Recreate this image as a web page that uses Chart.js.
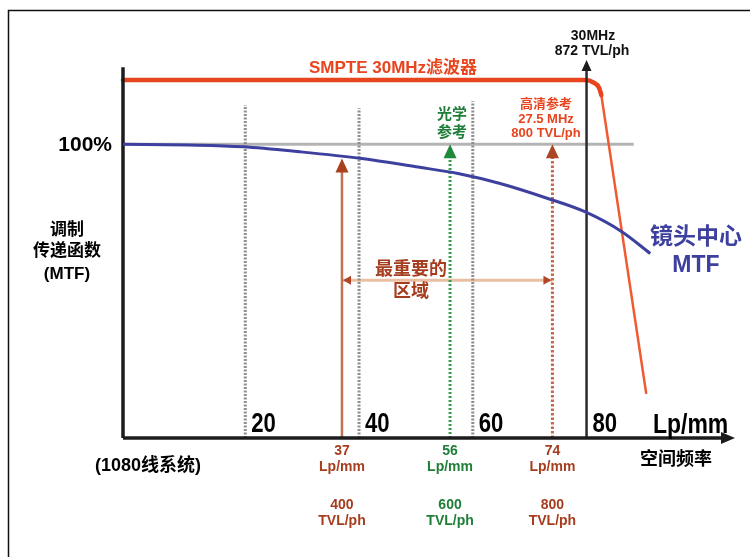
<!DOCTYPE html>
<html>
<head>
<meta charset="utf-8">
<script src="https://cdn.jsdelivr.net/npm/chart.js@4.4.1/dist/chart.umd.min.js"></script>
<style>
  html, body { margin: 0; padding: 0; background: #ffffff; }
  #wrap { width: 750px; height: 557px; position: relative; }
</style>
</head>
<body>
<div id="wrap"><canvas id="c" width="750" height="557"></canvas></div>
<script>
// Spatial frequency in Lp/mm, response in percent
const lensMtfFreq  = [-1.5, 10, 19.6, 29.6, 40.5, 50, 57.4, 64.8, 73.2, 79.7, 86.2, 91.2];
const lensMtfValue = [100, 99.7, 99.1, 97.4, 95.1, 92.3, 90.0, 86.6, 81.5, 77.0, 70.2, 62.8];

// SMPTE 30 MHz filter: flat pass band with a rounded knee, then the roll-off
const filterFreq      = [-1.5, 79.7, 81.3, 82.2, 82.6];
const filterValue     = [121.8, 121.8, 120.9, 119.2, 116.7];
const filterRollFreq  = [82.6, 90.5];
const filterRollValue = [116.7, 15.0];

// dotted reference verticals and their heights
const gridFreq = [20, 40, 60];
const gridTop  = [113.3, 112.2, 114.6];

// numbers printed beside the verticals
const tickFreq   = [20, 40, 60, 80];
const tickLabels = ['20', '40', '60', '80'];

// 30 MHz cut-off line
const cutoffFreq = 80;
const cutoffTop  = 128.6;

// resolution markers
const markerFreq  = [37, 56, 74];
const markerTop   = [95.1, 100, 100];
const markerLp    = ['37', '56', '74'];
const markerTvl   = ['400', '600', '800'];

const referenceLevel = 100;   // 100 % line
const referenceEnd   = 88.3;
const regionLevel    = 53.7;  // "most important region" span
const axisTop        = 126.2;

const xMin = -1.5, xMax = 106.1, yMin = 0, yMax = 130;

const LATIN = "'Liberation Sans', Arial, 'Noto Sans CJK SC', sans-serif";

const pts = (xs, ys) => xs.map((x, i) => ({ x, y: ys[i] }));

const BROWN = '#a53d1f';
const GREEN = '#1f7f39';
const RED = '#e8441e';
const BLUE = '#3d409e';

const datasets = [];

// axes
datasets.push({ data: [{ x: xMin, y: 0 }, { x: xMin, y: axisTop }], borderColor: '#1c1c1c', borderWidth: 3.5, order: 1 });
datasets.push({ data: [{ x: xMin, y: 0 }, { x: xMax - 1, y: 0 }], borderColor: '#1c1c1c', borderWidth: 3.5, order: 1 });

// 100 % line
datasets.push({ data: [{ x: xMin, y: referenceLevel }, { x: referenceEnd, y: referenceLevel }], borderColor: '#b4b4b4', borderWidth: 3, order: 9 });

// dotted verticals
gridFreq.forEach((f, i) => {
  datasets.push({ data: [{ x: f, y: 0 }, { x: f, y: gridTop[i] }], borderColor: '#8e8e8e', borderWidth: 3, borderDash: [2, 1.5], order: 3 });
});

// cut-off line
datasets.push({ data: [{ x: cutoffFreq, y: 0 }, { x: cutoffFreq, y: cutoffTop - 3 }], borderColor: '#2a2a2a', borderWidth: 2.5, order: 2 });

// marker shafts
const shaftStyle = [
  { color: '#c4714f', dash: [] },
  { color: '#35a150', dash: [2, 2] },
  { color: '#c26a48', dash: [2.5, 2] }
];
markerFreq.forEach((f, i) => {
  datasets.push({ data: [{ x: f, y: 0 }, { x: f, y: markerTop[i] - 3 }], borderColor: shaftStyle[i].color, borderWidth: i === 0 ? 2.5 : 3, borderDash: shaftStyle[i].dash, order: 4 });
});

// region span
datasets.push({ data: [{ x: markerFreq[0], y: regionLevel }, { x: markerFreq[2], y: regionLevel }], borderColor: '#ebbfa3', borderWidth: 3, order: 5 });

// filter response
datasets.push({ data: pts(filterFreq, filterValue), borderColor: RED, borderWidth: 4.5, cubicInterpolationMode: 'monotone', order: 6, borderJoinStyle: 'round', borderCapStyle: 'round' });
datasets.push({ data: pts(filterRollFreq, filterRollValue), borderColor: '#f05a30', borderWidth: 2.5, order: 6 });

// lens MTF
datasets.push({ data: pts(lensMtfFreq, lensMtfValue), borderColor: BLUE, borderWidth: 3, cubicInterpolationMode: 'monotone', order: 0 });

datasets.forEach(d => { d.pointRadius = 0; d.clip = false; d.fill = false; });

function head(ctx, x, y, dir, len, half, color) {
  ctx.save();
  ctx.fillStyle = color;
  ctx.beginPath();
  if (dir === 'up') { ctx.moveTo(x, y); ctx.lineTo(x - half, y + len); ctx.lineTo(x + half, y + len); }
  else if (dir === 'right') { ctx.moveTo(x, y); ctx.lineTo(x - len, y - half); ctx.lineTo(x - len, y + half); }
  else { ctx.moveTo(x, y); ctx.lineTo(x + len, y - half); ctx.lineTo(x + len, y + half); }
  ctx.closePath();
  ctx.fill();
  ctx.restore();
}

function text(ctx, s, x, y, font, color, align) {
  ctx.save();
  ctx.font = font;
  ctx.fillStyle = color;
  ctx.textAlign = align || 'center';
  ctx.textBaseline = 'middle';
  ctx.fillText(s, x, y);
  ctx.restore();
}

// horizontally condensed bold lettering for the scale numbers
function narrowText(ctx, s, x, y, size) {
  ctx.save();
  ctx.translate(x, y);
  ctx.scale(0.82, 1);
  ctx.font = 'bold ' + size + 'px ' + LATIN;
  ctx.fillStyle = '#000000';
  ctx.textAlign = 'left';
  ctx.textBaseline = 'alphabetic';
  ctx.fillText(s, 0, 0);
  ctx.restore();
}

const decorations = {
  id: 'decorations',
  beforeDraw(chart) {
    const ctx = chart.ctx;
    ctx.save();
    ctx.fillStyle = '#ffffff';
    ctx.fillRect(0, 0, chart.width, chart.height);
    ctx.strokeStyle = '#111111';
    ctx.lineWidth = 1.5;
    ctx.strokeRect(8.5, 10.5, 800, 800);
    ctx.restore();
  },
  afterDatasetsDraw(chart) {
    const ctx = chart.ctx;
    const X = v => chart.scales.x.getPixelForValue(v);
    const Y = v => chart.scales.y.getPixelForValue(v);

    // arrow heads
    head(ctx, X(xMax), Y(0), 'right', 14, 6, '#1c1c1c');
    head(ctx, X(cutoffFreq), Y(cutoffTop), 'up', 11, 5, '#1c1c1c');
    const headColor = ['#a8401c', '#1f8a3a', '#ad4624'];
    markerFreq.forEach((f, i) => head(ctx, X(f), Y(markerTop[i]), 'up', 14, 6.5, headColor[i]));
    head(ctx, X(markerFreq[0]) + 1, Y(regionLevel), 'left', 8, 4.5, '#b0452a');
    head(ctx, X(markerFreq[2]) - 1, Y(regionLevel), 'right', 8, 4.5, '#b0452a');

    // numbers beside the verticals
    tickFreq.forEach((f, i) => narrowText(ctx, tickLabels[i], X(f) + 6, 432, 27));
    narrowText(ctx, 'Lp/mm', 653, 433, 28);

    // titles and notes
    text(ctx, 'SMPTE 30MHz滤波器', 393, 68, 'bold 17px ' + LATIN, RED);
    text(ctx, '30MHz', 593, 36, 'bold 14px ' + LATIN, '#111111');
    text(ctx, '872 TVL/ph', 592, 51, 'bold 14px ' + LATIN, '#111111');
    text(ctx, '光学', 452, 115, 'bold 15px ' + LATIN, GREEN);
    text(ctx, '参考', 452, 133, 'bold 15px ' + LATIN, GREEN);
    text(ctx, '高清参考', 546, 104, 'bold 13px ' + LATIN, RED);
    text(ctx, '27.5 MHz', 546, 119, 'bold 13px ' + LATIN, RED);
    text(ctx, '800 TVL/ph', 546, 133, 'bold 13px ' + LATIN, RED);
    text(ctx, '100%', 112, 145, 'bold 21px ' + LATIN, '#000000', 'right');
    text(ctx, '调制', 67, 230, 'bold 17px ' + LATIN, '#000000');
    text(ctx, '传递函数', 67, 251, 'bold 17px ' + LATIN, '#000000');
    text(ctx, '(MTF)', 67, 274, 'bold 17px ' + LATIN, '#000000');
    text(ctx, '(1080线系统)', 148, 466, 'bold 18px ' + LATIN, '#000000');
    text(ctx, '镜头中心', 696, 238, 'bold 23px ' + LATIN, BLUE);
    text(ctx, 'MTF', 696, 266, 'bold 23px ' + LATIN, BLUE);
    text(ctx, '最重要的', 411, 270, 'bold 18px ' + LATIN, BROWN);
    text(ctx, '区域', 411, 292, 'bold 18px ' + LATIN, BROWN);
    text(ctx, '空间频率', 676, 460, 'bold 18px ' + LATIN, '#000000');

    // marker captions under the axis
    const capColor = [BROWN, GREEN, BROWN];
    markerFreq.forEach((f, i) => {
      const x = X(f);
      text(ctx, markerLp[i], x, 451, 'bold 14px ' + LATIN, capColor[i]);
      text(ctx, 'Lp/mm', x, 467, 'bold 14px ' + LATIN, capColor[i]);
      text(ctx, markerTvl[i], x, 505, 'bold 14px ' + LATIN, capColor[i]);
      text(ctx, 'TVL/ph', x, 521, 'bold 14px ' + LATIN, capColor[i]);
    });
  }
};

new Chart(document.getElementById('c'), {
  type: 'line',
  data: { datasets },
  options: {
    responsive: false,
    animation: false,
    devicePixelRatio: 1,
    layout: { padding: { left: 123, right: 15, top: 56, bottom: 119 } },
    scales: {
      x: { type: 'linear', min: xMin, max: xMax, display: false },
      y: { type: 'linear', min: yMin, max: yMax, display: false }
    },
    plugins: { legend: { display: false }, tooltip: { enabled: false } },
    elements: { point: { radius: 0 }, line: { tension: 0 } }
  },
  plugins: [decorations]
});
</script>
</body>
</html>
